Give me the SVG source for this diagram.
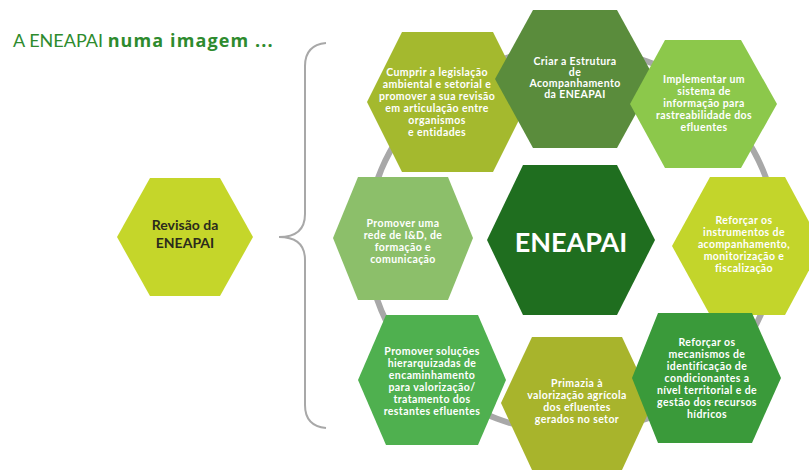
<svg xmlns="http://www.w3.org/2000/svg" width="809" height="470" viewBox="0 0 809 470">
  <style>
    .hex-text { font-family: "Lato", "Open Sans", sans-serif; font-weight: bold; font-size: 10.5px; fill: #ffffff; text-anchor: middle; letter-spacing: 0.4px; }
    .title { font-family: "Lato", "Open Sans", sans-serif; font-size: 18px; fill: #2e8b2e; }
  </style>
  <rect width="809" height="470" fill="#ffffff"/>

  <!-- title -->
  <text class="title" x="13" y="47">A ENEAPAI <tspan font-family="'Open Sans', sans-serif" font-weight="bold" letter-spacing="1.1">numa imagem ...</tspan></text>

  <!-- connectors: ring behind the hexagons and the brace -->
  <g id="connectors" fill="none" stroke="#a8a8a8">
    <ellipse cx="572" cy="240" rx="205" ry="192" stroke-width="6"/>
    <path d="M 326 43 Q 305 45 305 66 L 305 214 Q 305 237 279 237 Q 305 237 305 260 L 305 405 Q 305 426 326 428" stroke-width="2"/>
  </g>

  <!-- left node -->
  <g id="revisao">
    <polygon points="117,237 150,178 220,178 253,237 220,296 150,296" fill="#c5d62a"/>
    <text x="185" y="230" font-family="Lato, 'Open Sans', sans-serif" font-weight="bold" font-size="14" fill="#2b2b1c" text-anchor="middle">Revisão da</text>
    <text x="185" y="248" font-family="Lato, 'Open Sans', sans-serif" font-weight="bold" font-size="14" fill="#2b2b1c" text-anchor="middle">ENEAPAI</text>
  </g>

  <!-- outer hexagons -->
  <g id="cumprir">
    <polygon points="367,102 402,32 493,32 528,102 493,172 402,172" fill="#a4b92e"/>
    <text class="hex-text" x="437" y="76">Cumprir a legislação</text>
    <text class="hex-text" x="437" y="88">ambiental e setorial e</text>
    <text class="hex-text" x="437" y="100">promover a sua revisão</text>
    <text class="hex-text" x="437" y="112">em articulação entre</text>
    <text class="hex-text" x="437" y="124">organismos</text>
    <text class="hex-text" x="437" y="136">e entidades</text>
  </g>

  <g id="criar">
    <polygon points="495,79 533,10 617,10 655,79 617,148 533,148" fill="#5a8c3c"/>
    <text class="hex-text" x="575" y="65">Criar a Estrutura</text>
    <text class="hex-text" x="575" y="76">de</text>
    <text class="hex-text" x="575" y="87">Acompanhamento</text>
    <text class="hex-text" x="575" y="98">da ENEAPAI</text>
  </g>

  <g id="implementar">
    <polygon points="630,104 665,40 741,40 777,104 741,168 665,168" fill="#8cc84b"/>
    <text class="hex-text" x="704" y="83">Implementar um</text>
    <text class="hex-text" x="704" y="95">sistema de</text>
    <text class="hex-text" x="704" y="107">informação para</text>
    <text class="hex-text" x="704" y="119">rastreabilidade dos</text>
    <text class="hex-text" x="704" y="131">efluentes</text>
  </g>

  <g id="promover-rede">
    <polygon points="333,238 358,177 448,177 473,238 448,300 358,300" fill="#8cbf6a"/>
    <text class="hex-text" x="403" y="227">Promover uma</text>
    <text class="hex-text" x="403" y="239">rede de I&amp;D, de</text>
    <text class="hex-text" x="403" y="251">formação e</text>
    <text class="hex-text" x="403" y="263">comunicação</text>
  </g>

  <g id="reforcar-instrumentos">
    <polygon points="672,246 710,177 785,177 822,246 785,315 710,315" fill="#c3d52b"/>
    <text class="hex-text" x="744" y="224">Reforçar os</text>
    <text class="hex-text" x="744" y="236">instrumentos de</text>
    <text class="hex-text" x="744" y="248">acompanhamento,</text>
    <text class="hex-text" x="744" y="260">monitorização e</text>
    <text class="hex-text" x="744" y="272">fiscalização</text>
  </g>

  <g id="promover-solucoes">
    <polygon points="358,380 386,315 478,315 506,380 478,445 386,445" fill="#4fb04f"/>
    <text class="hex-text" x="432" y="355">Promover soluções</text>
    <text class="hex-text" x="432" y="367">hierarquizadas de</text>
    <text class="hex-text" x="432" y="379">encaminhamento</text>
    <text class="hex-text" x="432" y="391">para valorização/</text>
    <text class="hex-text" x="432" y="403">tratamento dos</text>
    <text class="hex-text" x="432" y="415">restantes efluentes</text>
  </g>

  <g id="primazia">
    <polygon points="501,403 532,337 622,337 653,403 622,470 532,470" fill="#a8b42c"/>
    <text class="hex-text" x="577" y="387">Primazia à</text>
    <text class="hex-text" x="577" y="399">valorização agrícola</text>
    <text class="hex-text" x="577" y="411">dos efluentes</text>
    <text class="hex-text" x="577" y="423">gerados no setor</text>
  </g>

  <g id="reforcar-mecanismos">
    <polygon points="632,378 658,313 752,313 781,378 752,443 658,443" fill="#3a9a3a"/>
    <text class="hex-text" x="707" y="346">Reforçar os</text>
    <text class="hex-text" x="707" y="358">mecanismos de</text>
    <text class="hex-text" x="707" y="370">identificação de</text>
    <text class="hex-text" x="707" y="382">condicionantes a</text>
    <text class="hex-text" x="707" y="394">nível territorial e de</text>
    <text class="hex-text" x="707" y="406">gestão dos recursos</text>
    <text class="hex-text" x="707" y="418">hídricos</text>
  </g>

  <!-- central node -->
  <g id="eneapai">
    <polygon points="487,240 523,165 617,165 655,240 617,315 523,315" fill="#1f6e1f"/>
    <text x="571" y="252" font-family="Lato, 'Open Sans', sans-serif" font-weight="bold" font-size="27" fill="#ffffff" text-anchor="middle">ENEAPAI</text>
  </g>
</svg>
